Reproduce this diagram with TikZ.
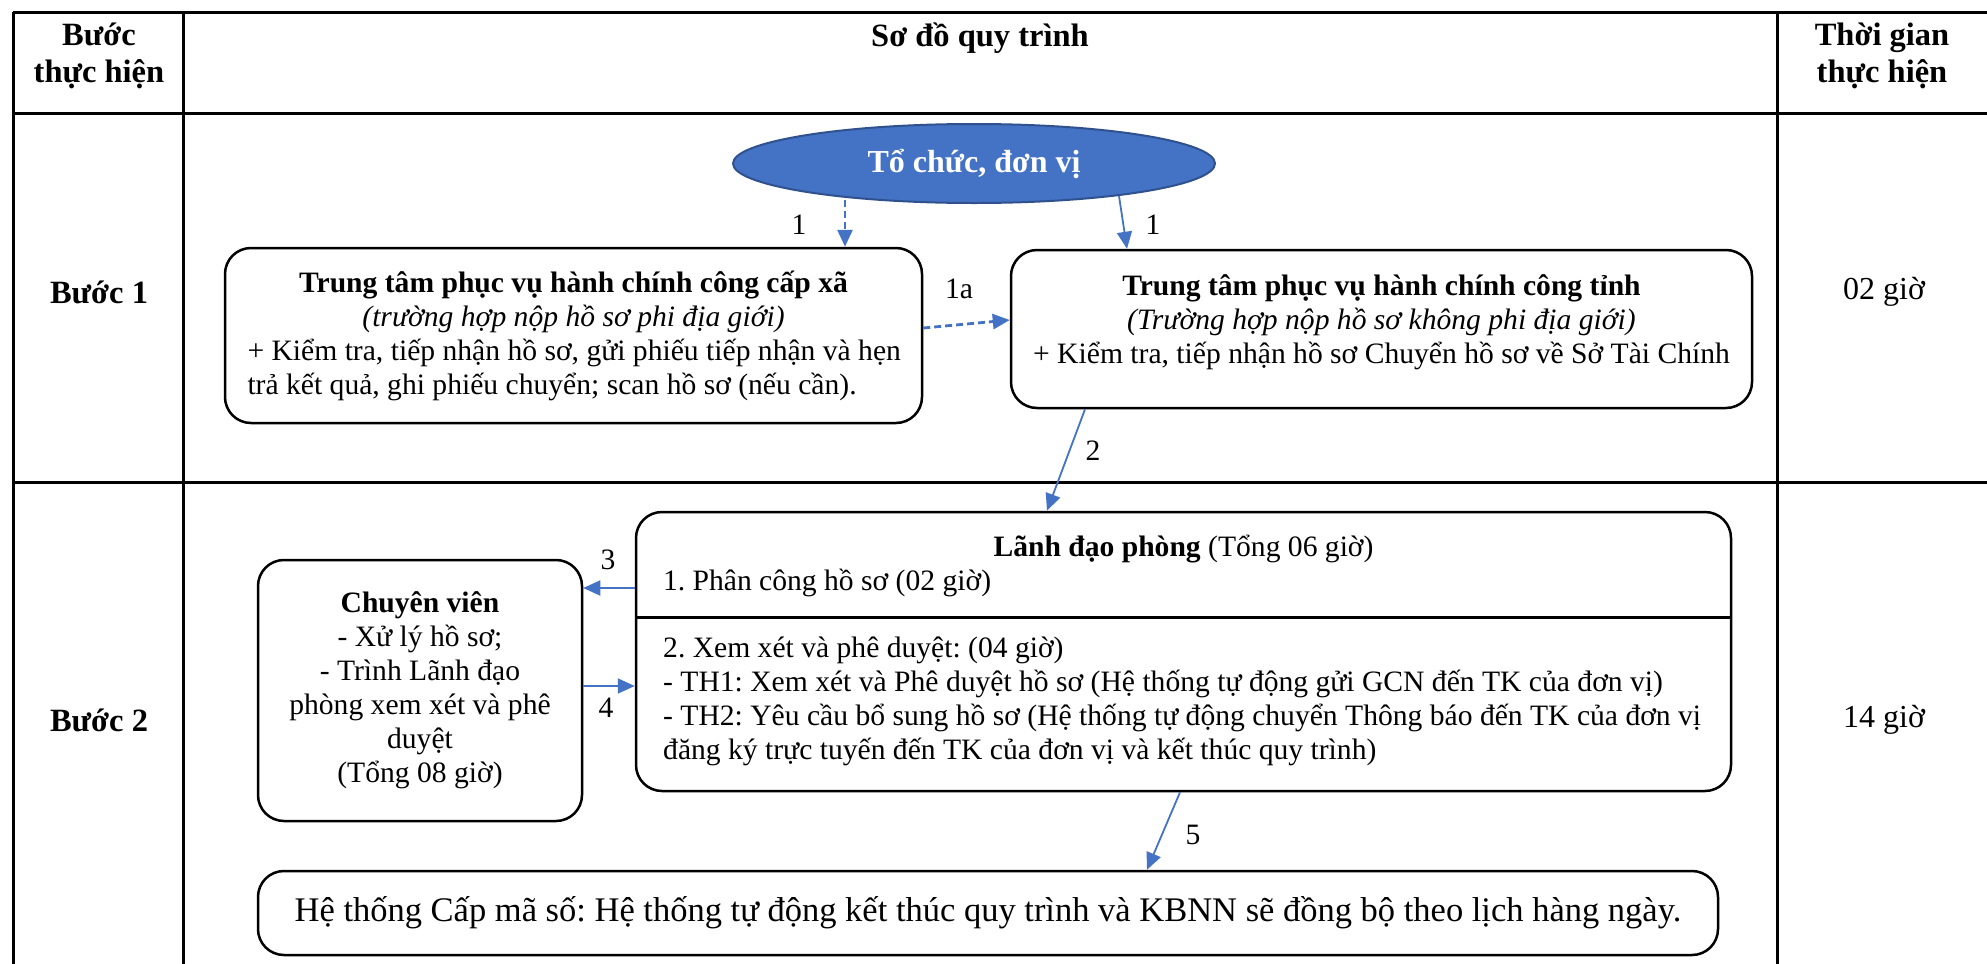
\documentclass[tikz,border=0pt]{standalone}
\usepackage{fontspec}
\setmainfont{Liberation Serif}
\usetikzlibrary{shapes, arrows.meta, positioning}
\definecolor{flowblue}{HTML}{4472C4}
\definecolor{edgeblue}{HTML}{2F528F}
\frenchspacing
\newcommand\bodyfont{\fontsize{29.6}{34}\selectfont}
\newcommand\headfont{\fontsize{32.5}{37}\selectfont\bfseries}
\newcommand\bigfont{\fontsize{34.5}{40}\selectfont}

\begin{document}
\begin{tikzpicture}[x=1pt, y=-1pt,
    grid/.style={line width=3pt},
    box/.style={draw, rounded corners=26pt, line width=2.5pt, align=center, inner sep=0pt, font=\bodyfont},
    txt/.style={inner sep=0pt, font=\bodyfont},
    hd/.style={inner sep=0pt, align=center, font=\headfont},
    flow/.style={flowblue, line width=1.8pt, -{Triangle[length=17pt, width=15pt]}},
    flowd/.style={flow, line width=2.8pt, dash pattern=on 7pt off 4pt},
  ]
  \useasboundingbox (0,0) rectangle (1987,964);
  \draw[grid] (13,12) -- (1987,12); \draw[grid] (13,113) -- (1987,113); \draw[grid] (13,482) -- (1987,482);
  \draw[grid] (13,12) -- (13,964); \draw[grid] (183,12) -- (183,964); \draw[grid] (1777,12) -- (1777,964);

  \node[hd] (hdstep) at (99,56) {Bước\\thực hiện};
  \node[hd] (hdflow) at (980,38) {Sơ đồ quy trình};
  \node[hd] (hdtime) at (1882,56) {Thời gian\\thực hiện};
  \node[hd] (step1) at (99,292) {Bước 1};
  \node[hd] (step2) at (99,720) {Bước 2};
  \node[txt, font=\fontsize{32}{34}\selectfont] (time1) at (1884,292) {02 giờ};
  \node[txt, font=\fontsize{32}{34}\selectfont] (time2) at (1884,720) {14 giờ};

  \node[ellipse, draw=edgeblue, fill=flowblue, line width=2pt, minimum width=482pt, minimum height=79pt,
    text=white, font=\fontsize{32}{34}\selectfont\bfseries] (tochuc) at (974,163.5) {Tổ chức, đơn vị};
  \node[box, minimum width=697pt, minimum height=175pt] (xa) at (573.5,335.5)
    {\textbf{Trung tâm phục vụ hành chính công cấp xã}\\\textit{(trường hợp nộp hồ sơ phi địa giới)}\\
     \makebox[652pt][l]{+ Kiểm tra, tiếp nhận hồ sơ, gửi phiếu tiếp nhận và hẹn}\\
     \makebox[652pt][l]{trả kết quả, ghi phiếu chuyển; scan hồ sơ (nếu cần).}};
  \node[box, minimum width=741pt, minimum height=158pt, text depth=20pt] (tinh) at (1381.5,329)
    {\textbf{Trung tâm phục vụ hành chính công tỉnh}\\\textit{(Trường hợp nộp hồ sơ không phi địa giới)}\\
     + Kiểm tra, tiếp nhận hồ sơ Chuyển hồ sơ về Sở Tài Chính};

  \node[box, minimum width=324pt, minimum height=261pt] (chuyen) at (420,690.5)
    {\textbf{Chuyên viên}\\- Xử lý hồ sơ;\\- Trình Lãnh đạo\\phòng xem xét và phê\\duyệt\\(Tổng 08 giờ)};
  \node[box, minimum width=1095pt, minimum height=279pt] (lanhdao) at (1183.5,651.5) {};
  \node[txt, align=center] (ldhead) at (1183.5,566)
    {\textbf{Lãnh đạo phòng} (Tổng 06 giờ)\\\makebox[1041pt][l]{1. Phân công hồ sơ (02 giờ)}};
  \draw[line width=3pt] ([yshift=34.5pt]lanhdao.west) -- ([yshift=34.5pt]lanhdao.east);
  \node[txt, align=left, anchor=west] (ldreview) at (663,701)
    {2. Xem xét và phê duyệt: (04 giờ)\\
     - TH1: Xem xét và Phê duyệt hồ sơ (Hệ thống tự động gửi GCN đến TK của đơn vị)\\
     - TH2: Yêu cầu bổ sung hồ sơ (Hệ thống tự động chuyển Thông báo đến TK của đơn vị\\
     đăng ký trực tuyến đến TK của đơn vị và kết thúc quy trình)};
  \node[box, minimum width=1460pt, minimum height=84pt, font=\bigfont] (hethong) at (988,913)
    {Hệ thống Cấp mã số: Hệ thống tự động kết thúc quy trình và KBNN sẽ đồng bộ theo lịch hàng ngày.};

  \draw[flowd] ([xshift=-129pt,yshift=4pt]tochuc.south) -- ([xshift=271.5pt]xa.north);
  \draw[flow] ([xshift=145pt,yshift=8pt]tochuc.south) -- ([xshift=-254.5pt]tinh.north);
  \draw[flowd] ([yshift=7.5pt]xa.east) -- ([yshift=9pt]tinh.west);
  \draw[flow] ([xshift=-296.5pt]tinh.south) -- ([xshift=-136.5pt]lanhdao.north);
  \draw[flow] ([yshift=63.5pt]lanhdao.west) -- ([yshift=102.5pt]chuyen.east);
  \draw[flow] ([yshift=4.5pt]chuyen.east) -- ([yshift=-34.5pt]lanhdao.west);
  \draw[flow] ([xshift=-3.5pt]lanhdao.south) -- ([xshift=159pt]hethong.north);

  \node[txt] (n1a) at (799,225) {1};
  \node[txt] (n1b) at (1153,225) {1};
  \node[txt] (n1x) at (959,289) {1a};
  \node[txt] (n2) at (1093,451) {2};
  \node[txt] (n3) at (608,560) {3};
  \node[txt] (n4) at (606,708) {4};
  \node[txt] (n5) at (1193,835) {5};
\end{tikzpicture}
\end{document}
